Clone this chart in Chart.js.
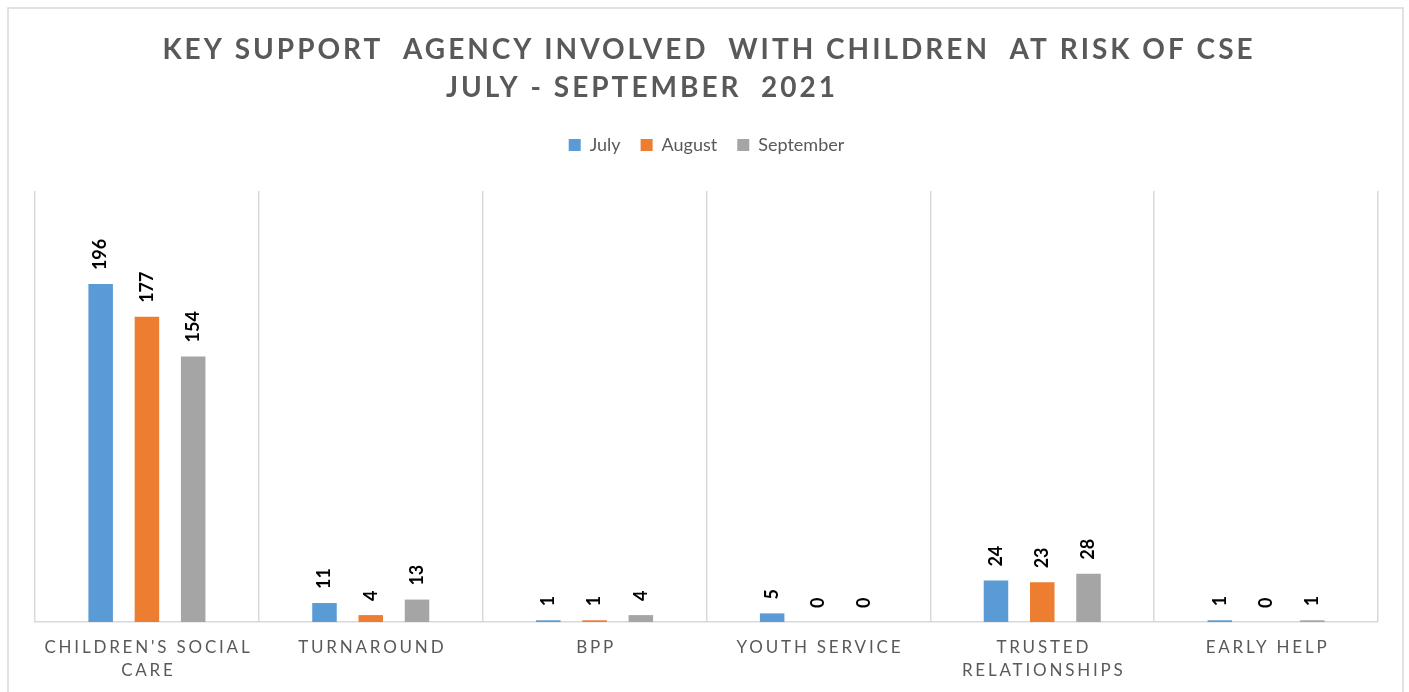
<!DOCTYPE html>
<html>
<head>
<meta charset="utf-8">
<script src="https://cdn.jsdelivr.net/npm/chart.js@4.4.1/dist/chart.umd.min.js"></script>
<style>
  html, body { margin: 0; padding: 0; background: #fff; }
  canvas { display: block; }
</style>
</head>
<body>
<canvas id="chart" width="1409" height="692"></canvas>
<script>
// Values
const agencies = [
    ["CHILDREN'S SOCIAL", 'CARE'],
    ['TURNAROUND'],
    ['BPP'],
    ['YOUTH SERVICE'],
    ['TRUSTED', 'RELATIONSHIPS'],
    ['EARLY HELP'],
];
const julyValues = [196, 11, 1, 5, 24, 1];
const augustValues = [177, 4, 1, 0, 23, 0];
const septemberValues = [154, 13, 4, 0, 28, 1];
const titleLines = ['KEY SUPPORT  AGENCY INVOLVED  WITH CHILDREN  AT RISK OF CSE', 'JULY - SEPTEMBER  2021'];

const GREY_TEXT = '#595959';
const GRID = '#d9d9d9';

// outer frame of the chart
const frame = {
    id: 'frame',
    beforeDraw(chart) {
        const ctx = chart.ctx;
        ctx.save();
        ctx.strokeStyle = GRID;
        ctx.lineWidth = 1.5;
        ctx.strokeRect(8, 8, 1395, 720);
        ctx.restore();
    }
};

// two-line spaced title, second line sits a bit left of centre like the original
const spacedTitle = {
    id: 'spacedTitle',
    afterDraw(chart) {
        const ctx = chart.ctx;
        ctx.save();
        ctx.font = 'bold 28px Lato';
        ctx.fillStyle = GREY_TEXT;
        ctx.letterSpacing = '3px';
        ctx.textAlign = 'center';
        ctx.textBaseline = 'middle';
        ctx.fillText(titleLines[0], 709, 50);
        ctx.fillText(titleLines[1], 642, 88);
        ctx.restore();
    }
};

// x category labels with letter spacing
const spacedTicks = {
    id: 'spacedTicks',
    afterDraw(chart) {
        const ctx = chart.ctx;
        const xScale = chart.scales.x;
        ctx.save();
        ctx.font = '17px Lato';
        ctx.fillStyle = GREY_TEXT;
        ctx.letterSpacing = '2.8px';
        ctx.textAlign = 'center';
        ctx.textBaseline = 'middle';
        agencies.forEach((lines, i) => {
            const x = xScale.getPixelForValue(i);
            lines.forEach((line, j) => {
                ctx.fillText(line, x + 1.5, xScale.bottom + 26 + j * 23);
            });
        });
        ctx.restore();
    }
};

// rotated value labels above each bar
const barValues = {
    id: 'barValues',
    afterDatasetsDraw(chart) {
        const ctx = chart.ctx;
        ctx.save();
        ctx.font = 'bold 18px Lato';
        ctx.fillStyle = '#000';
        ctx.textAlign = 'left';
        ctx.textBaseline = 'middle';
        chart.data.datasets.forEach((ds, di) => {
            chart.getDatasetMeta(di).data.forEach((bar, i) => {
                ctx.save();
                ctx.translate(bar.x, bar.y - 14);
                ctx.rotate(-Math.PI / 2);
                ctx.fillText(String(ds.data[i]), 0, 0);
                ctx.restore();
            });
        });
        ctx.restore();
    }
};

// extra room between legend and plot
const legendGap = {
    id: 'legendGap',
    beforeInit(chart) {
        const fit = chart.legend.fit;
        chart.legend.fit = function () {
            fit.bind(chart.legend)();
            this.height += 27;
        };
    }
};

new Chart(document.getElementById('chart'), {
    type: 'bar',
    data: {
        labels: agencies.map(l => l.join(' ')),
        datasets: [
            { label: 'July', data: julyValues, backgroundColor: '#5b9bd5' },
            { label: 'August', data: augustValues, backgroundColor: '#ed7d31' },
            { label: 'September', data: septemberValues, backgroundColor: '#a5a5a5' },
        ]
    },
    options: {
        responsive: false,
        animation: false,
        categoryPercentage: 0.62,
        barPercentage: 0.53,
        layout: { padding: { top: 116, left: 35, right: 31, bottom: 70 } },
        scales: {
            x: {
                grid: { color: GRID, lineWidth: 1.5, drawTicks: false, offset: true },
                border: { color: GRID, width: 1.5 },
                ticks: { display: false }
            },
            y: { display: false, min: 0, max: 250 }
        },
        plugins: {
            title: { display: false },
            tooltip: { enabled: false },
            legend: {
                position: 'top',
                labels: {
                    boxWidth: 12, boxHeight: 12, padding: 20,
                    color: GREY_TEXT,
                    font: { family: 'Lato', size: 18 }
                }
            }
        }
    },
    plugins: [frame, spacedTitle, spacedTicks, barValues, legendGap]
});
</script>
</body>
</html>
